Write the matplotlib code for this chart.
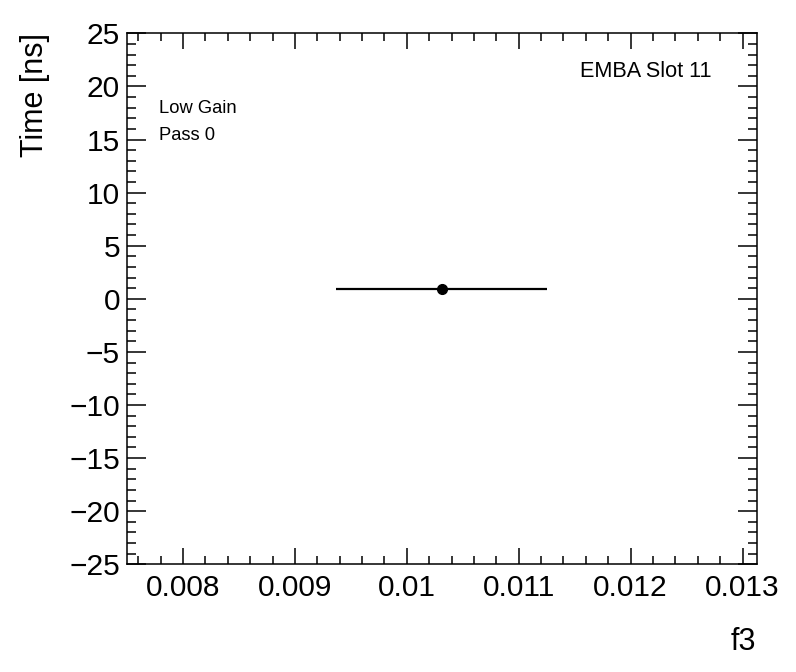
import matplotlib.pyplot as plt
from matplotlib.ticker import MultipleLocator, FuncFormatter

# data
f3 = [0.01031]
f3_err = [0.00094]
time_ns = [0.9]
time_err = [0.0]

x_lim = (0.0075, 0.013125)
y_lim = (-25, 25)

plt.rcParams['font.family'] = ['Liberation Sans', 'DejaVu Sans']

fig = plt.figure(figsize=(7.96, 6.72), dpi=100)
ax = fig.add_axes([0.1596, 0.1603, 0.7908, 0.7901])

ax.errorbar(f3, time_ns, xerr=f3_err, yerr=time_err, fmt='o', color='black',
            ms=7, lw=1.6, capsize=0)

ax.set_xlim(*x_lim)
ax.set_ylim(*y_lim)

ax.xaxis.set_major_locator(MultipleLocator(0.001))
ax.xaxis.set_minor_locator(MultipleLocator(0.0002))
ax.yaxis.set_major_locator(MultipleLocator(5))
ax.yaxis.set_minor_locator(MultipleLocator(1))
ax.xaxis.set_major_formatter(FuncFormatter(lambda v, p: '%g' % round(v, 6)))
ax.yaxis.set_major_formatter(FuncFormatter(lambda v, p: ('%d' % round(v)).replace('-', '\u2212')))

ax.tick_params(which='both', direction='in', top=True, right=True, width=1.1, labelsize=21.5)
ax.tick_params(axis='x', which='major', length=11.5, pad=7)
ax.tick_params(axis='x', which='minor', length=5.8)
ax.tick_params(axis='y', which='major', length=13.7, pad=5)
ax.tick_params(axis='y', which='minor', length=6.5)
for s in ax.spines.values():
    s.set_linewidth(1.1)

ax.set_xlabel('f3', fontsize=22, loc='right', labelpad=18)
ax.set_ylabel('Time [ns]', fontsize=22, loc='top', labelpad=14)

ax.text(0.0504, 0.859, 'Low Gain', transform=ax.transAxes, fontsize=13.2, va='center', ha='left')
ax.text(0.0504, 0.808, 'Pass 0', transform=ax.transAxes, fontsize=13.2, va='center', ha='left')
ax.text(0.929, 0.928, 'EMBA Slot 11', transform=ax.transAxes, fontsize=15.6, va='center', ha='right')

fig.savefig('out.png', dpi=100)
